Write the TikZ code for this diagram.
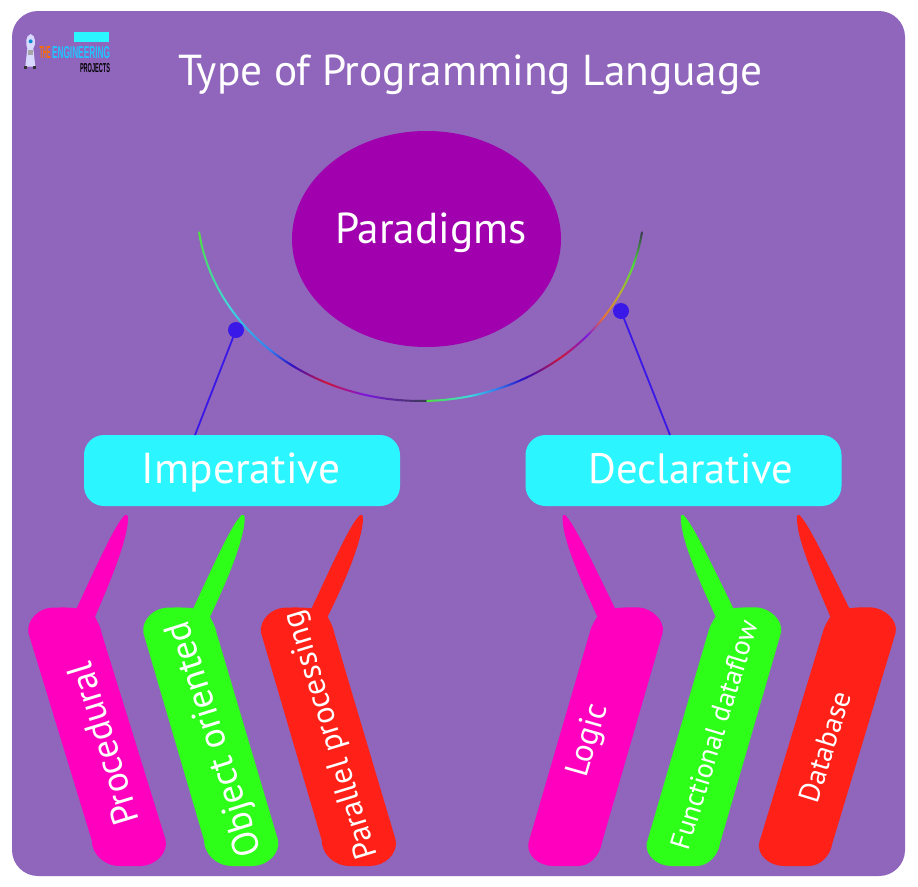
\documentclass[tikz,border=0pt]{standalone}
\usepackage{fontspec}
\setmainfont{PT Sans}
\newfontfamily\logofont{Liberation Sans}
\definecolor{bgpurple}{HTML}{8F66BB}
\definecolor{ellpurple}{HTML}{A000AE}
\definecolor{boxcyan}{HTML}{2BF6FF}
\definecolor{cmag}{HTML}{FF00BE}
\definecolor{cgreen}{HTML}{2EFF18}
\definecolor{cred}{HTML}{FF2018}
\definecolor{linkblue}{HTML}{3A18E8}
\definecolor{a1}{HTML}{4FE03A}
\definecolor{a2}{HTML}{3FD8E0}
\definecolor{a3}{HTML}{2F80F0}
\definecolor{a4}{HTML}{2A10C8}
\definecolor{a5}{HTML}{D0153A}
\definecolor{a6}{HTML}{7A18E0}
\definecolor{a7}{HTML}{3A3A50}
\definecolor{a8}{HTML}{E8703A}
\definecolor{a9}{HTML}{B8B030}
\newcommand{\gradarc}[4]{%
  \foreach \i in {0,...,11}{%
    \pgfmathsetmacro{\ta}{#1+(#2-#1)*\i/12}%
    \pgfmathsetmacro{\tb}{#1+(#2-#1)*(\i+1)/12}%
    \pgfmathsetmacro{\mixp}{100-(\i+.5)*100/12}%
    \draw[arcline,draw={#3!\mixp!#4}]
      ({420.5+223.6*cos(\ta)},{205+196*sin(\ta)}) -- ({420.5+223.6*cos(\tb)},{205+196*sin(\tb)});
  }}
\newcommand{\calloutL}[4]{%
  \fill[#1] (345+#2,45) .. controls (320+#2,70) and (290+#2,130) .. (200+#2,325)
    .. controls (180+#3,322) and (160+#3,322) .. (125+#3,323)
    .. controls (85+#3,325) and (50+#3,360) .. (55+#3,398)
    -- (245+#4,1020) .. controls (245+#4,1060) and (280+#4,1098) .. (330+#4,1098)
    -- (390+#4,1098) .. controls (435+#4,1098) and (475+#4,1060) .. (467+#4,1020)
    -- (275+#3,400) .. controls (270+#3,375) and (262+#3,365) .. (255+#3,350)
    .. controls (310+#2,225) and (350+#2,120) .. (354+#2,60)
    .. controls (355+#2,45) and (350+#2,42) .. (345+#2,45) -- cycle;}
\newcommand{\calloutR}[4]{%
  \fill[#1] (165+#2,45) .. controls (190+#2,70) and (225+#2,140) .. (315+#2,325)
    .. controls (335+#3,322) and (355+#3,322) .. (385+#3,322)
    .. controls (425+#3,325) and (465+#3,360) .. (458+#3,398)
    -- (275+#4,1030) .. controls (270+#4,1065) and (240+#4,1098) .. (205+#4,1098)
    -- (130+#4,1098) .. controls (85+#4,1098) and (50+#4,1065) .. (55+#4,1030)
    -- (240+#3,395) .. controls (245+#3,375) and (255+#3,362) .. (262+#3,350)
    .. controls (205+#2,225) and (160+#2,120) .. (158+#2,60)
    .. controls (157+#2,45) and (160+#2,42) .. (165+#2,45) -- cycle;}
\tikzset{
  x=1pt,y=-1pt,
  arcline/.style={line width=2pt,line cap=round},
  catbox/.style={fill=boxcyan,rounded corners=20pt,minimum width=316pt,minimum height=71pt,inner sep=0pt},
  headtext/.style={text=white,font=\fontsize{43.3}{43.3}\selectfont,inner sep=0pt,anchor=base},
  itemtext/.style={text=white,inner sep=0pt},
  dotnode/.style={circle,fill=linkblue,minimum size=16pt,inner sep=0pt},
  link/.style={draw=linkblue,line width=1.8pt},
  logotext/.style={inner sep=0pt,font=\logofont\bfseries},
}
\begin{document}
\begin{tikzpicture}
\useasboundingbox (0,0) rectangle (918,886);
\fill[white] (0,0) rectangle (918,886);
\fill[bgpurple,rounded corners=26pt] (12,11) rectangle (905,876);

% logo
\begin{scope}[x=0.33333pt,y=-0.33333pt]
  \fill[boxcyan] (222,97) rectangle (328,125);
  \fill[white!85!blue] (92,102) .. controls (76,106) and (76,135) .. (82,145) -- (76,200) -- (106,200) -- (100,145) .. controls (108,135) and (108,106) .. (92,102) -- cycle;
  \fill[cyan!70!blue] (92,124) circle (6);
  \fill[gray!70] (84,150) rectangle (100,165);
  \fill[black!80] (72,197) rectangle (80,208);
  \fill[black!80] (100,197) rectangle (108,208);
\end{scope}
\node[logotext,text=orange!85!red] (logothe) at (45,52.5) {\resizebox{11pt}{12pt}{THE}};
\node[logotext,text=boxcyan!80!blue] (logoeng) at (81,52.5) {\resizebox{58pt}{12pt}{ENGINEERING}};
\node[logotext,text=black] (logoproj) at (95,68) {\resizebox{30pt}{9pt}{PROJECTS}};

% title
\node[headtext] (title) at (470.5,85) {Type of Programming Language};

% central ellipse
\fill[ellpurple] (426.5,239) ellipse [x radius=134.5,y radius=108];
\node[headtext] (paradigms) at (431,243) {Paradigms};

% arc
\gradarc{172}{148}{a1}{a2}
\gradarc{148}{132}{a2}{a3}
\gradarc{132}{125}{a3}{a4}
\gradarc{125}{114.6}{a4}{a5}
\gradarc{114.6}{104}{a5}{a6}
\gradarc{104}{88.3}{a6}{a7}
\gradarc{88.3}{77}{a1}{a2}
\gradarc{77}{70}{a2}{a3}
\gradarc{70}{62.6}{a3}{a4}
\gradarc{62.6}{51}{a4}{a5}
\gradarc{51}{41.8}{a5}{a6}
\gradarc{41.8}{35}{a6}{a8}
\gradarc{35}{26.6}{a8}{a9}
\gradarc{26.6}{17.8}{a9}{a1}
\gradarc{17.8}{8}{a1}{a7}

% category boxes
\node[catbox] (impbox) at (242,470.5) {};
\node[catbox] (decbox) at (683.5,470.5) {};
\node[headtext] (imptext) at (241,483) {Imperative};
\node[headtext,font=\fontsize{42.5}{42.5}\selectfont] (dectext) at (691,483) {Declarative};

% connectors
\node[dotnode] (impdot) at (236,330) {};
\node[dotnode] (decdot) at (621,311) {};
\coordinate (impfoot) at (195,435);
\coordinate (decfoot) at (670,435);
\draw[link] (impdot.center) -- (impfoot);
\draw[link] (decdot.center) -- (decfoot);

% callouts
\begin{scope}[shift={(10,500)},x=0.33333pt,y=-0.33333pt]
  \calloutL{cmag}{0}{0}{0}
  \calloutL{cgreen}{350}{345}{337}
  \calloutL{cred}{705}{698}{690}
\end{scope}
\begin{scope}[shift={(510,500)},x=0.33333pt,y=-0.33333pt]
  \calloutR{cmag}{0}{0}{0}
  \calloutR{cgreen}{355}{355}{355}
  \calloutR{cred}{703}{699}{692}
\end{scope}

% item labels
\node[itemtext,rotate=107,font=\fontsize{37}{37}\selectfont] (proc) at (103,744) {Procedural};
\node[itemtext,rotate=107.5,font=\fontsize{37}{37}\selectfont] (obj) at (216,739) {Object oriented};
\node[itemtext,rotate=107,font=\fontsize{32}{32}\selectfont] (par) at (332,735) {Parallel processing};
\node[itemtext,rotate=74,font=\fontsize{33}{33}\selectfont] (logic) at (589,741) {Logic};
\node[itemtext,rotate=73,font=\fontsize{28}{28}\selectfont] (func) at (714,735) {Functional dataflow};
\node[itemtext,rotate=73,font=\fontsize{29}{29}\selectfont] (db) at (825,747) {Database};
\end{tikzpicture}
\end{document}
